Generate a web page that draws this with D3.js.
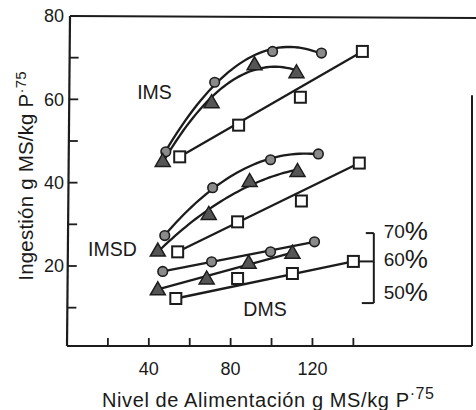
<!DOCTYPE html>
<html>
<head>
<meta charset="utf-8">
<script src="https://cdn.jsdelivr.net/npm/d3@7"></script>
<style>
  body { margin: 0; background: #fff; }
  text { font-family: "Liberation Sans", Arial, sans-serif; fill: #1a1a1a; }
</style>
</head>
<body>
<div id="chart"></div>
<script>
// values: [nivel de alimentacion, ingestion]
const ims70  = [[48.3, 47.4], [72.2, 64.1], [100.5, 71.5], [124.4, 71.1]];
const ims60  = [[46.8, 45.2], [70.7, 59.3], [91.7, 68.4], [112.2, 66.5]];
const ims50  = [[55.1, 46.2], [83.9, 53.8], [114.1, 60.5], [144.4, 71.5]];
const imsd70 = [[47.8, 27.3], [71.2, 38.8], [99.5, 45.5], [122.9, 46.9]];
const imsd60 = [[44.4, 23.7], [69.3, 32.5], [89.3, 40.4], [112.7, 42.8]];
const imsd50 = [[54.1, 23.4], [83.4, 30.6], [114.6, 35.6], [142.9, 44.7]];
const dms70  = [[46.8, 18.7], [70.7, 21.0], [99.5, 23.4], [121.0, 25.8]];
const dms60  = [[44.4, 14.4], [68.3, 17.0], [88.8, 20.8], [110.2, 23.2]];
const dms50  = [[53.2, 12.2], [83.4, 17.0], [110.2, 18.2], [140.0, 21.1]];

const xTicks = [20, 40, 60, 80, 100, 120, 140];
const xTickLabels = [40, 80, 120];
const yTicks = [10, 20, 30, 40, 50, 60, 70, 80];
const yTickLabels = [20, 40, 60, 80];
const percentLabels = ['70', '60', '50'];

// label anchors, in data units
const groupLabels = [
  {text: 'IMS',  x: 34.3, y: 60.1},
  {text: 'IMSD', x: 10.3, y: 22.4},
  {text: 'DMS',  x: 86.2, y: 7.9}
];

// marker: c = 70% (circle), t = 60% (triangle), s = 50% (square)
// fit: quad = curved regression, line = straight from first to last point
const series = [
  {data: ims70,  mark: 'c', fit: 'quad'},
  {data: ims60,  mark: 't', fit: 'quad'},
  {data: ims50,  mark: 's', fit: 'line'},
  {data: imsd70, mark: 'c', fit: 'quad'},
  {data: imsd60, mark: 't', fit: 'quad'},
  {data: imsd50, mark: 's', fit: 'line'},
  {data: dms70,  mark: 'c', fit: 'line'},
  {data: dms60,  mark: 't', fit: 'line'},
  {data: dms50,  mark: 's', fit: 'line'}
];

const width = 476, height = 410;
const ink = '#1c1c1c';

const svg = d3.select('#chart').append('svg')
  .attr('width', width)
  .attr('height', height);

const x = d3.scaleLinear().domain([0, 198]).range([67, 472]);
const y = d3.scaleLinear().domain([0.8, 80]).range([346, 16]);

// least squares parabola through the points
function quadFit(pts) {
  let n = pts.length, sx = 0, sx2 = 0, sx3 = 0, sx4 = 0, sy = 0, sxy = 0, sx2y = 0;
  pts.forEach(([a, b]) => {
    sx += a; sx2 += a * a; sx3 += a * a * a; sx4 += a * a * a * a;
    sy += b; sxy += a * b; sx2y += a * a * b;
  });
  const M = [[n, sx, sx2, sy], [sx, sx2, sx3, sxy], [sx2, sx3, sx4, sx2y]];
  for (let i = 0; i < 3; i++) {
    for (let k = i + 1; k < 3; k++) {
      const f = M[k][i] / M[i][i];
      for (let j = i; j < 4; j++) M[k][j] -= f * M[i][j];
    }
  }
  const c = [0, 0, 0];
  for (let i = 2; i >= 0; i--) {
    let s = M[i][3];
    for (let j = i + 1; j < 3; j++) s -= M[i][j] * c[j];
    c[i] = s / M[i][i];
  }
  return v => c[0] + c[1] * v + c[2] * v * v;
}

function fitPath(s) {
  const first = s.data[0], last = s.data[s.data.length - 1];
  if (s.fit === 'line') return [first, last];
  const f = quadFit(s.data);
  return d3.range(0, 41).map(i => {
    const v = first[0] + (last[0] - first[0]) * i / 40;
    return [v, f(v)];
  });
}

const line = d3.line().x(d => x(d[0])).y(d => y(d[1])).curve(d3.curveLinear);

// frame
const frame = svg.append('g').attr('stroke', ink).attr('fill', 'none');
frame.append('line').attr('x1', x(0) + 3).attr('x2', x(0)).attr('y1', y(80)).attr('y2', y(0.8)).attr('stroke-width', 2.2);
frame.append('line').attr('x1', x(0)).attr('x2', x(198)).attr('y1', y(0.8)).attr('y2', y(0.8)).attr('stroke-width', 2.2);
frame.append('line').attr('x1', x(0) + 3).attr('x2', width).attr('y1', y(80)).attr('y2', y(80) + 2).attr('stroke-width', 2);
frame.append('line').attr('x1', x(198)).attr('x2', x(198)).attr('y1', y(61)).attr('y2', y(0.8)).attr('stroke-width', 2);

// ticks (inside)
svg.append('g').selectAll('line').data(yTicks).join('line')
  .attr('x1', d => x(0) + 3 * (d / 80)).attr('x2', d => x(0) + 3 * (d / 80) + 9)
  .attr('y1', d => y(d)).attr('y2', d => y(d))
  .attr('stroke', ink).attr('stroke-width', 1.8);
svg.append('g').selectAll('line').data(xTicks).join('line')
  .attr('x1', d => x(d)).attr('x2', d => x(d))
  .attr('y1', y(0.8)).attr('y2', y(0.8) - 8)
  .attr('stroke', ink).attr('stroke-width', 1.8);

svg.append('g').selectAll('text').data(yTickLabels).join('text')
  .attr('x', 64).attr('y', d => y(d)).attr('dy', '0.36em')
  .attr('text-anchor', 'end').attr('font-size', 18)
  .text(d => d);
svg.append('g').selectAll('text').data(xTickLabels).join('text')
  .attr('x', d => x(d)).attr('y', 375)
  .attr('text-anchor', 'middle').attr('font-size', 18)
  .text(d => d);

// axis titles
const yt = svg.append('text')
  .attr('transform', 'translate(33,176) rotate(-90)')
  .attr('text-anchor', 'middle').attr('font-size', 20.5).attr('letter-spacing', 0.2);
yt.append('tspan').text('Ingestión g MS/kg P');
yt.append('tspan').attr('font-size', 15).attr('dy', -7).text('·75');

const xt = svg.append('text')
  .attr('x', 102).attr('y', 407)
  .attr('font-size', 20).attr('letter-spacing', 0.6);
xt.append('tspan').text('Nivel de Alimentación g MS/kg P');
xt.append('tspan').attr('font-size', 16).attr('dy', -8).text('·75');

// fitted lines
svg.append('g').selectAll('path').data(series).join('path')
  .attr('d', s => line(fitPath(s)))
  .attr('fill', 'none').attr('stroke', ink).attr('stroke-width', 2.3);

// markers
const pts = series.flatMap(s => s.data.map(d => ({mark: s.mark, v: d})));
const markers = svg.append('g');
markers.selectAll('circle').data(pts.filter(p => p.mark === 'c')).join('circle')
  .attr('cx', p => x(p.v[0])).attr('cy', p => y(p.v[1])).attr('r', 4.8)
  .attr('fill', '#8a8a8a').attr('stroke', ink).attr('stroke-width', 1.6);
markers.selectAll('path.tri').data(pts.filter(p => p.mark === 't')).join('path')
  .attr('class', 'tri')
  .attr('transform', p => `translate(${x(p.v[0])},${y(p.v[1])})`)
  .attr('d', 'M0,-7.5L7.5,5.5L-7.5,5.5Z')
  .attr('fill', '#555').attr('stroke', ink).attr('stroke-width', 1.5);
markers.selectAll('rect').data(pts.filter(p => p.mark === 's')).join('rect')
  .attr('x', p => x(p.v[0]) - 5.5).attr('y', p => y(p.v[1]) - 5.5)
  .attr('width', 11).attr('height', 11)
  .attr('fill', '#fff').attr('stroke', ink).attr('stroke-width', 2);

// group labels
svg.append('g').selectAll('text').data(groupLabels).join('text')
  .attr('x', d => x(d.x)).attr('y', d => y(d.y))
  .attr('font-size', 19.5)
  .text(d => d.text);

// bracket with percentages
const bx = x(150);
const br = svg.append('g').attr('stroke', ink).attr('fill', 'none').attr('stroke-width', 2);
br.append('line').attr('x1', bx).attr('x2', bx).attr('y1', y(27.9)).attr('y2', y(11.1));
br.append('line').attr('x1', bx - 8).attr('x2', bx).attr('y1', y(27.9)).attr('y2', y(27.9));
br.append('line').attr('x1', bx - 12).attr('x2', bx).attr('y1', y(11.1)).attr('y2', y(11.1));
br.append('line').attr('x1', x(dms50[3][0]) + 5.5).attr('x2', bx).attr('y1', y(dms50[3][1])).attr('y2', y(dms50[3][1]));

const pctY = [26.8, 20.1, 12.2];
const pct = svg.append('g').selectAll('text').data(percentLabels).join('text')
  .attr('x', x(154.8)).attr('y', (d, i) => y(pctY[i]))
  .attr('font-size', 19);
pct.append('tspan').text(d => d);
pct.append('tspan').attr('font-size', 26).attr('dy', 2).text('%');
</script>
</body>
</html>
